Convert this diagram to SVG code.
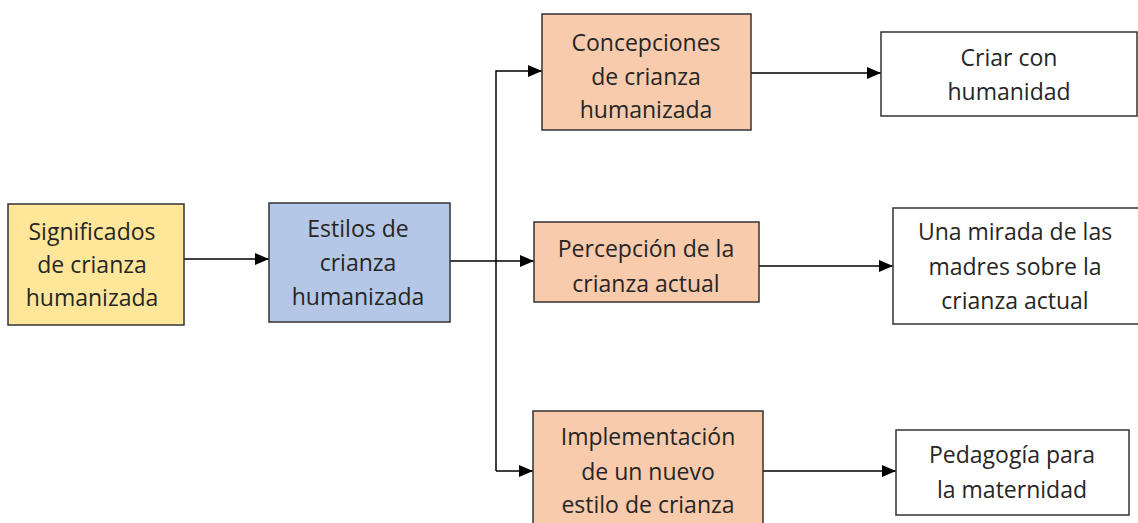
<svg xmlns="http://www.w3.org/2000/svg" width="1138" height="523" viewBox="0 0 1138 523">
<defs>
<marker id="arr" markerWidth="14" markerHeight="12" refX="14" refY="6" orient="auto" markerUnits="userSpaceOnUse">
<path d="M0,0 L14,6 L0,12 Z" fill="#000"/>
</marker>
<style>
.box{stroke:#333;stroke-width:1.5}
.y{fill:#FFE699}.b{fill:#B4C7E7}.o{fill:#F8CBAD}.w{fill:#fff}
text{font-family:"Open Sans","Noto Sans",sans-serif;font-size:23px;fill:#262626;text-anchor:middle}
.c{fill:none;stroke:#000;stroke-width:1.5}
</style>
</defs>
<rect width="1138" height="523" fill="#fff"/>
<g id="connectors">
<line class="c" x1="184" y1="259" x2="269" y2="259" marker-end="url(#arr)"/>
<polyline class="c" points="450,261 496,261"/>
<polyline class="c" points="496,471 496,71 542,71" marker-end="url(#arr)"/>
<line class="c" x1="496" y1="261" x2="534" y2="261" marker-end="url(#arr)"/>
<line class="c" x1="496" y1="471" x2="533" y2="471" marker-end="url(#arr)"/>
<line class="c" x1="751" y1="73" x2="881" y2="73" marker-end="url(#arr)"/>
<line class="c" x1="759" y1="266" x2="893" y2="266" marker-end="url(#arr)"/>
<line class="c" x1="763" y1="471" x2="896" y2="471" marker-end="url(#arr)"/>
</g>
<g id="significados">
<rect class="box y" x="8" y="204" width="176" height="121"/>
<text x="92" y="240">Significados</text>
<text x="92" y="273">de crianza</text>
<text x="92" y="306">humanizada</text>
</g>
<g id="estilos">
<rect class="box b" x="269" y="203" width="181" height="119"/>
<text x="358" y="237">Estilos de</text>
<text x="358" y="271">crianza</text>
<text x="358" y="305">humanizada</text>
</g>
<g id="concepciones">
<rect class="box o" x="542" y="14" width="209" height="116"/>
<text x="646" y="51">Concepciones</text>
<text x="646" y="85">de crianza</text>
<text x="646" y="118">humanizada</text>
</g>
<g id="percepcion">
<rect class="box o" x="534" y="222" width="225" height="80"/>
<text x="646" y="257">Percepción de la</text>
<text x="646" y="292">crianza actual</text>
</g>
<g id="implementacion">
<rect class="box o" x="533" y="411" width="230" height="120"/>
<text x="648" y="445">Implementación</text>
<text x="648" y="480">de un nuevo</text>
<text x="648" y="513">estilo de crianza</text>
</g>
<g id="criar">
<rect class="box w" x="881" y="32" width="256" height="84"/>
<text x="1009" y="66">Criar con</text>
<text x="1009" y="100">humanidad</text>
</g>
<g id="mirada">
<rect class="box w" x="893" y="208" width="250" height="116"/>
<text x="1015" y="240">Una mirada de las</text>
<text x="1015" y="275">madres sobre la</text>
<text x="1015" y="309">crianza actual</text>
</g>
<g id="pedagogia">
<rect class="box w" x="896" y="430" width="233" height="85"/>
<text x="1012" y="463">Pedagogía para</text>
<text x="1012" y="498">la maternidad</text>
</g>
</svg>
